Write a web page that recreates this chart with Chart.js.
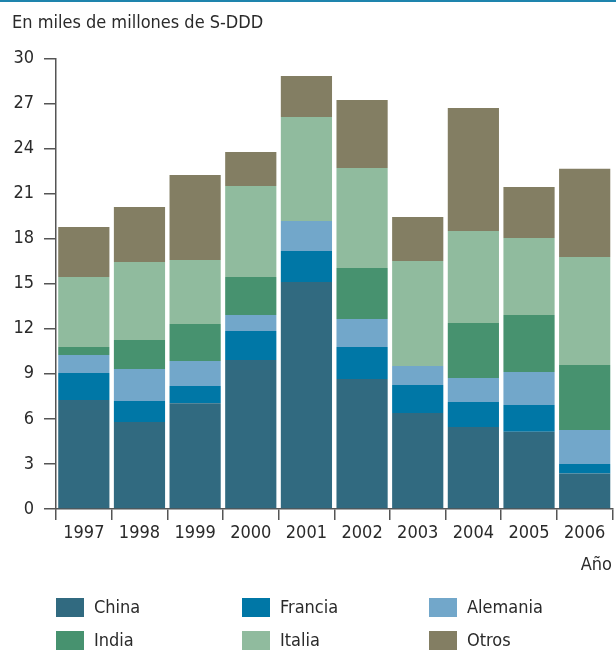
<!DOCTYPE html>
<html>
<head>
<meta charset="utf-8">
<script src="https://cdn.jsdelivr.net/npm/chart.js@4"></script>
<style>
  html, body { margin: 0; padding: 0; background: #fff; }
  #wrap { width: 616px; height: 651px; position: relative; }
</style>
</head>
<body>
<div id="wrap"><canvas id="chart"></canvas></div>
<script>
const years = ['1997', '1998', '1999', '2000', '2001', '2002', '2003', '2004', '2005', '2006'];
const yTicks = [0, 3, 6, 9, 12, 15, 18, 21, 24, 27, 30];

// miles de millones
const china    = [7.26, 5.79, 7.04, 9.92, 15.11, 8.66, 6.39, 5.46, 5.15, 2.37];
const francia  = [1.79, 1.40, 1.15, 1.93, 2.07, 2.13, 1.87, 1.66, 1.77, 0.63];
const alemania = [1.20, 2.13, 1.66, 1.07, 1.99, 1.86, 1.26, 1.60, 2.20, 2.26];
const india    = [0.54, 1.93, 2.47, 2.53, 0.00, 3.40, 0.00, 3.66, 3.80, 4.33];
const italia   = [4.66, 5.19, 4.26, 6.05, 6.93, 6.65, 6.99, 6.13, 5.12, 7.19];
const otros    = [3.32, 3.66, 5.66, 2.27, 2.73, 4.53, 2.93, 8.19, 3.40, 5.86];

const FONT = '"DejaVu Sans Condensed", "Liberation Sans Narrow", sans-serif';
const SIZE = 18;
const TEXT = '#2a2a2a';
const AXIS = '#555';

// title, axis name and the 3-column legend
const extras = {
  id: 'extras',
  afterDraw(chart) {
    const ctx = chart.ctx;
    ctx.save();
    ctx.fillStyle = '#1e84ad';
    ctx.fillRect(0, 0, chart.width, 2);

    ctx.fillStyle = TEXT;
    ctx.font = SIZE + 'px ' + FONT;
    ctx.textBaseline = 'middle';
    ctx.textAlign = 'left';
    ctx.fillText('En miles de millones de S-DDD', 12, 23);

    ctx.textAlign = 'right';
    ctx.fillText('Año', 612, 565);

    ctx.textAlign = 'left';
    const cols = [56, 242, 429];
    const rows = [598, 631];
    chart.data.datasets.forEach((ds, i) => {
      const x = cols[i % 3];
      const y = rows[Math.floor(i / 3)];
      ctx.fillStyle = ds.backgroundColor;
      ctx.fillRect(x, y, 28, 19);
      ctx.fillStyle = TEXT;
      ctx.fillText(ds.label, x + 38, y + 10);
    });
    ctx.restore();
  }
};

new Chart(document.getElementById('chart'), {
  type: 'bar',
  data: {
    labels: years,
    datasets: [
      { label: 'China', data: china, backgroundColor: '#316a80' },
      { label: 'Francia', data: francia, backgroundColor: '#0077a6' },
      { label: 'Alemania', data: alemania, backgroundColor: '#72a7ca' },
      { label: 'India', data: india, backgroundColor: '#47926f' },
      { label: 'Italia', data: italia, backgroundColor: '#90bb9e' },
      { label: 'Otros', data: otros, backgroundColor: '#837e63' }
    ]
  },
  options: {
    responsive: true,
    maintainAspectRatio: false,
    animation: false,
    layout: { padding: { top: 58.3, left: 0, right: 3.5, bottom: 0 } },
    datasets: { bar: { categoryPercentage: 1, barPercentage: 0.92, borderWidth: 0 } },
    plugins: { legend: { display: false }, tooltip: { enabled: false } },
    scales: {
      x: {
        stacked: true,
        grid: { offset: true, drawOnChartArea: false, tickLength: 11, color: AXIS, lineWidth: 1.5 },
        border: { display: true, color: AXIS, width: 1.5 },
        ticks: { color: TEXT, font: { family: FONT, size: SIZE }, padding: 3, maxRotation: 0 },
        afterFit: s => { s.height = 142; }
      },
      y: {
        stacked: true,
        min: 0,
        max: 30,
        afterBuildTicks: s => { s.ticks = yTicks.map(v => ({ value: v })); },
        grid: { drawOnChartArea: false, tickLength: 12, color: AXIS, lineWidth: 1.5 },
        border: { display: true, color: AXIS, width: 1.5 },
        ticks: { color: TEXT, font: { family: FONT, size: SIZE }, padding: 10 },
        afterFit: s => { s.width = 56; }
      }
    }
  },
  plugins: [extras]
});
</script>
</body>
</html>
